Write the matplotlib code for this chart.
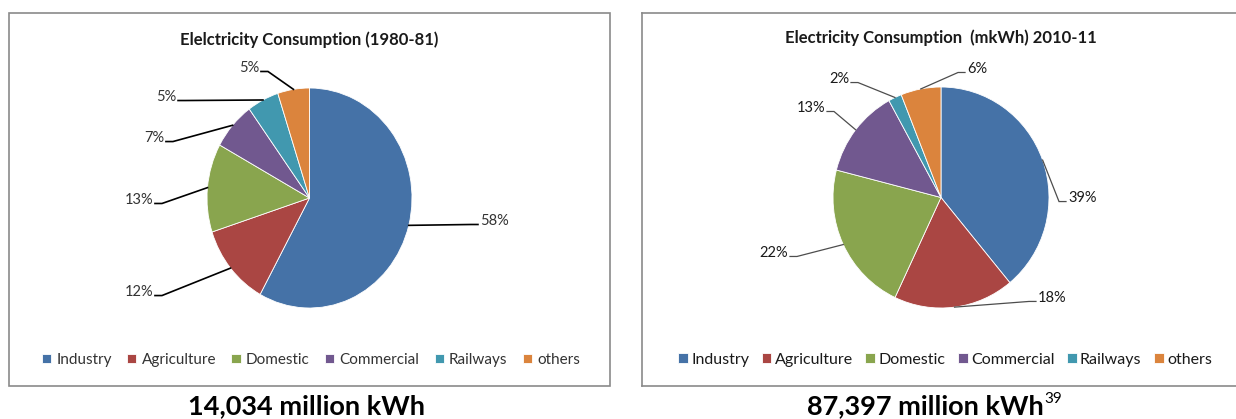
import numpy as np
import matplotlib
matplotlib.use("Agg")
import matplotlib.pyplot as plt
from matplotlib.lines import Line2D

plt.rcParams['font.family'] = ['Lato', 'DejaVu Sans']

W, H = 1236, 419

sectors = ['Industry', 'Agriculture', 'Domestic', 'Commercial', 'Railways', 'others']
colors = ['#4572A7', '#AA4643', '#89A54E', '#71588F', '#4198AF', '#DB843D']

share_1980 = [58, 12, 13, 7, 5, 5]
share_2010 = [39, 18, 22, 13, 2, 6]

title_1980 = 'Elelctricity Consumption (1980-81)'
title_2010 = 'Electricity Consumption  (mkWh) 2010-11'
total_1980 = '14,034 million kWh'
total_2010 = '87,397 million kWh'
footnote_2010 = '39'

# label anchors, in units of the pie radius, and text alignment
lab_1980 = [(1.663, -0.209, 'left'), (-1.527, -0.855, 'right'), (-1.527, -0.018, 'right'),
            (-1.420, 0.545, 'right'), (-1.302, 0.918, 'right'), (-0.493, 1.182, 'right')]
lab_2010 = [(1.176, -0.005, 'left'), (0.898, -0.909, 'left'), (-1.417, -0.502, 'right'),
            (-1.074, 0.810, 'right'), (-0.852, 1.072, 'right'), (0.241, 1.163, 'left')]


def fig_box(x, y, w, h):
    # pixel box (top-left origin) -> figure fraction
    return [x / W, 1 - (y + h) / H, w / W, h / H]


def fx(x):
    return x / W


def fy(y):
    return 1 - y / H


def draw_pie(fig, rect, values, labels, line_color, line_w, text_color):
    ax = fig.add_axes(fig_box(*rect))
    wedges, _ = ax.pie(values, colors=colors, startangle=90, counterclock=False,
                       radius=1, wedgeprops=dict(edgecolor='white', linewidth=0.6))
    ax.set_aspect('auto')
    ax.set_xlim(-1, 1)
    ax.set_ylim(-1, 1)
    ax.axis('off')

    rx = rect[2] / 2.0
    ry = rect[3] / 2.0
    for w, v, (tx, ty, ha) in zip(wedges, values, labels):
        mid = np.deg2rad((w.theta1 + w.theta2) / 2.0)
        ex, ey = np.cos(mid), np.sin(mid)
        sgn = 1 if ha == 'left' else -1
        end_x = tx - sgn * 2 / rx
        elb_x = end_x - sgn * 7 / rx
        ly = ty - 3.5 / ry
        ax.add_line(Line2D([ex, elb_x, end_x], [ey, ly, ly], color=line_color,
                           lw=line_w, clip_on=False, solid_joinstyle='miter'))
        ax.text(tx, ty, f'{v}%', ha=ha, va='center', fontsize=10.5,
                color=text_color, clip_on=False)
    return wedges


fig = plt.figure(figsize=(W / 100, H / 100), dpi=100)

# panel frames
fig.add_artist(plt.Rectangle((fx(9), fy(386)), fx(601), fy(13) - fy(386),
                             transform=fig.transFigure, fill=False,
                             edgecolor='#8a8a8a', lw=1.2))
for xs, ys in [([642, 1236], [13, 13]), ([642, 642], [13, 386]), ([642, 1236], [386, 386])]:
    fig.add_artist(Line2D([fx(x) for x in xs], [fy(y) for y in ys],
                          transform=fig.transFigure, color='#8a8a8a', lw=1.2))

# 1980-81
wl = draw_pie(fig, (207, 88, 205, 220), share_1980, lab_1980, 'black', 1.2, '#333333')
fig.text(fx(309), fy(40), title_1980, ha='center', va='center',
         fontsize=12, fontweight='bold', color='#1a1a1a')
fig.legend(wl, sectors, loc='center', bbox_to_anchor=(fx(311), fy(360)),
           ncol=6, frameon=False, fontsize=11, handlelength=0.6, handleheight=0.6,
           handletextpad=0.35, columnspacing=1.0, labelcolor='#333333')
fig.text(fx(307), fy(406), total_1980, ha='center', va='center',
         fontsize=19.5, fontweight='bold', color='black')

# 2010-11
wr = draw_pie(fig, (833, 87, 216, 221), share_2010, lab_2010, '#4d4d4d', 0.9, '#1a1a1a')
fig.text(fx(941), fy(38), title_2010, ha='center', va='center',
         fontsize=12, fontweight='bold', color='#1a1a1a')
fig.legend(wr, sectors, loc='center', bbox_to_anchor=(fx(945), fy(360)),
           ncol=6, frameon=False, fontsize=11.5, handlelength=0.6, handleheight=0.6,
           handletextpad=0.2, columnspacing=0.8, labelcolor='#1a1a1a')
tot = fig.text(fx(925), fy(406), total_2010, ha='center', va='center',
               fontsize=19.5, fontweight='bold', color='black')
fig.canvas.draw()
bb = tot.get_window_extent()
fig.text((bb.x1 + 1) / W, (bb.y1 + 2) / H, footnote_2010, ha='left', va='top',
         fontsize=11, color='black')

fig.savefig('out.png', dpi=100, facecolor='white')
